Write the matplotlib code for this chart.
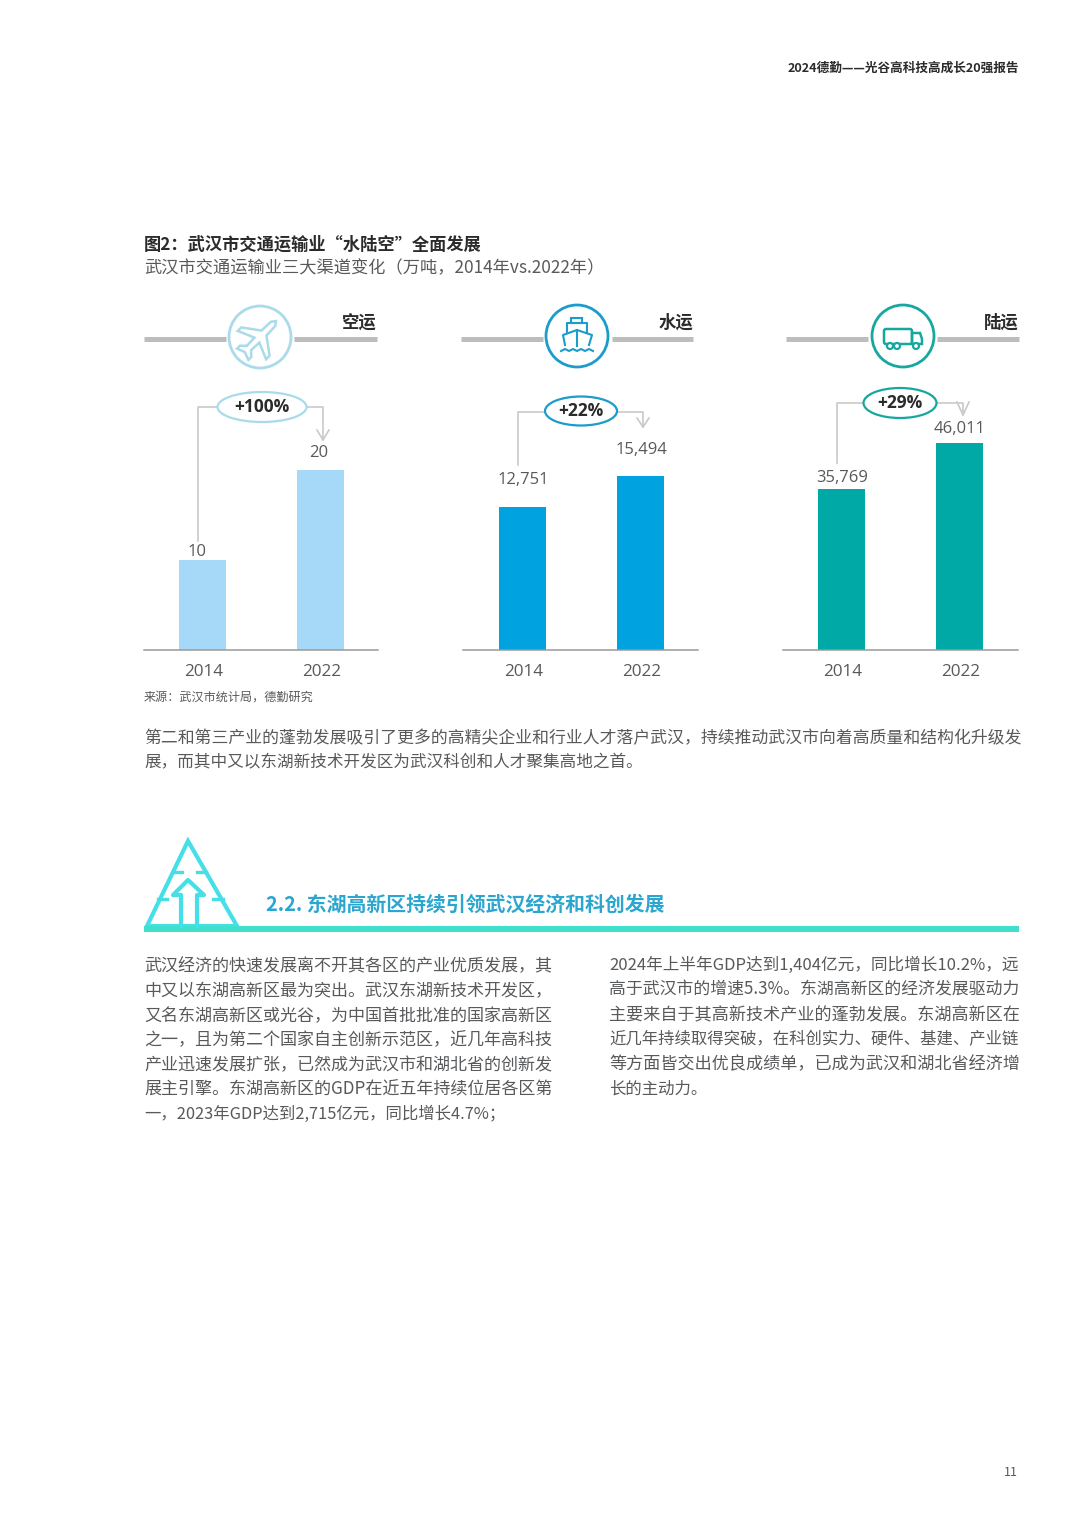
#!/usr/bin/python
# page with the three transport bar panels, drawn in page pixel coords

import matplotlib
matplotlib.use('Agg')
import matplotlib.pyplot as plt
from matplotlib.patches import Circle, Ellipse, Polygon, Rectangle, FancyBboxPatch
from matplotlib.transforms import Affine2D

plt.rcParams['font.family'] = ['Noto Sans CJK SC', 'DejaVu Sans']

W, H = 1080, 1527

years = ['2014', '2022']
air = [10, 20]
water = [12751, 15494]
land = [35769, 46011]
air_labels = ['10', '20']
water_labels = ['12,751', '15,494']
land_labels = ['35,769', '46,011']
growth = ['+100%', '+22%', '+29%']
modes = ['空运', '水运', '陆运']

para = ['第二和第三产业的蓬勃发展吸引了更多的高精尖企业和行业人才落户武汉，持续推动武汉市向着高质量和结构化升级发',
        '展，而其中又以东湖新技术开发区为武汉科创和人才聚集高地之首。']
col1 = ['武汉经济的快速发展离不开其各区的产业优质发展，其',
        '中又以东湖高新区最为突出。武汉东湖新技术开发区，',
        '又名东湖高新区或光谷，为中国首批批准的国家高新区',
        '之一，且为第二个国家自主创新示范区，近几年高科技',
        '产业迅速发展扩张，已然成为武汉市和湖北省的创新发',
        '展主引擎。东湖高新区的GDP在近五年持续位居各区第',
        '一，2023年GDP达到2,715亿元，同比增长4.7%；']
col2 = ['2024年上半年GDP达到1,404亿元，同比增长10.2%，远',
        '高于武汉市的增速5.3%。东湖高新区的经济发展驱动力',
        '主要来自于其高新技术产业的蓬勃发展。东湖高新区在',
        '近几年持续取得突破，在科创实力、硬件、基建、产业链',
        '等方面皆交出优良成绩单，已成为武汉和湖北省经济增',
        '长的主动力。']

TXT = '#58595b'
DARK = '#2b2b2b'
LINE = '#c9c9c9'
NUM_FONT = ['Open Sans', 'DejaVu Sans']

fig = plt.figure(figsize=(W / 100, H / 100), dpi=100)
page = fig.add_axes([0, 0, 1, 1])
page.set_xlim(0, W)
page.set_ylim(H, 0)
page.axis('off')


def panel(left, right, bar0, values, labels, gaps, color, px_per_unit):
    # axes 250px tall sitting on the baseline at y=650
    top = 400
    ax = fig.add_axes([left / W, 1 - 650 / H, (right - left) / W, (650 - top) / H])
    step = 118.0
    ax.set_xlim((left - bar0) / step, (right - bar0) / step)
    ax.set_ylim(0, 250 / px_per_unit)
    bars = ax.bar([0, 1], values, width=47 / step, color=color)
    for b, v, s, g in zip(bars, values, labels, gaps):
        ax.annotate(s, (b.get_x() + b.get_width() / 2, v), xytext=(g[0] * 0.72, g[1] * 0.72),
                    textcoords='offset points', ha='center', va='center', fontsize=12,
                    color=TXT, family=NUM_FONT)
    ax.set_xticks([0.01, 1.01], years, fontsize=12.3, color=TXT, family=NUM_FONT)
    ax.set_yticks([])
    ax.tick_params(axis='x', length=0, pad=10)
    for k in ['top', 'left', 'right']:
        ax.spines[k].set_visible(False)
    ax.spines['bottom'].set_color('#9a9a9a')
    ax.spines['bottom'].set_linewidth(1.1)
    ax.patch.set_alpha(0)
    return ax


panel(144, 378, 202.5, air, air_labels, [(-5, 8), (-2, 17)], '#a6d9f7', 9.0)
panel(463, 698, 522.5, water, water_labels, [(1, 27), (1, 26)], '#00a3e0', 143 / 12751)
panel(783, 1018, 841.5, land, land_labels, [(1, 11), (0, 14)], '#00a9a5', 161 / 35769)


def header(x0, x1, x2, x3, cx, cy, name, color):
    page.plot([x0, x1], [339, 339], color='#bdbdbd', lw=3.6, solid_capstyle='butt')
    page.plot([x2, x3], [339, 339], color='#bdbdbd', lw=3.6, solid_capstyle='butt')
    page.add_patch(Circle((cx, cy), 31, fill=False, ec=color, lw=2.0))
    page.text(x3, 323, name, ha='right', va='center', fontsize=12.5, fontweight='bold', color=DARK)


header(144, 226, 294, 377, 260, 337, modes[0], '#a9dbea')
header(461, 543, 612, 693, 577, 336, modes[1], '#1b9ccb')
header(786, 868, 937, 1019, 903, 336, modes[2], '#17a79f')

# plane, drawn nose up then turned
plane = [(0, -24), (3, -20), (3.5, -7), (20, 5), (20, 10), (3.5, 3), (3, 14), (8, 19), (8, 23),
         (0, 20), (-8, 23), (-8, 19), (-3, 14), (-3.5, 3), (-20, 10), (-20, 5), (-3.5, -7), (-3, -20)]
tr = Affine2D().rotate_deg(45).translate(259, 338) + page.transData
page.add_patch(Polygon(plane, closed=True, fill=False, ec='#a9dbea', lw=1.8, transform=tr))

# ship
sc = '#1b9ccb'
page.add_patch(Rectangle((571, 318), 11, 5, fill=False, ec=sc, lw=1.5))
page.plot([567, 567, 587, 587], [333, 323, 323, 333], color=sc, lw=1.5)
page.plot([565, 563, 577, 592, 589], [345, 335, 330, 335, 345], color=sc, lw=1.5)
page.plot([577, 577], [330, 346], color=sc, lw=1.5)
page.plot([561, 565, 569, 573, 577, 581, 585, 589, 593], [351, 349, 351, 349, 351, 349, 351, 349, 351],
          color=sc, lw=1.5)

# truck
tc = '#17a79f'
page.add_patch(FancyBboxPatch((884, 329), 28, 15, boxstyle='round,pad=0,rounding_size=2', fill=False, ec=tc, lw=1.8))
page.add_patch(Polygon([(912, 333), (920, 333), (922, 339), (922, 344), (912, 344)], fill=False, ec=tc, lw=1.8))
for x in [890, 897, 916]:
    page.add_patch(Circle((x, 346), 3, fc='white', ec=tc, lw=1.6, zorder=3))

# growth connectors
conn = [(198, 541, 407, 262, 407, 89, 30, 323, 440, 430),
        (518, 465, 412, 581, 411, 72, 29, 643, 427, 418),
        (837, 463, 403, 900, 403, 73, 30, 963, 415, 402)]
ell_col = ['#a9dbea', '#1b9ccb', '#17a79f']
for i, c in enumerate(conn):
    xl, yb, yt, ex, ey, ew, eh, xr, tip, vtop = c
    page.plot([xl, xl, xr, xr], [yb, yt, yt, tip], color=LINE, lw=1.2)
    page.plot([xr - 6, xr, xr + 6], [vtop, tip, vtop], color=LINE, lw=1.2)
    page.add_patch(Ellipse((ex, ey), ew, eh, fc='white', ec=ell_col[i], lw=1.6, zorder=3))
    page.text(ex, ey, growth[i], ha='center', va='center', fontsize=12.5, fontweight='bold',
              color=DARK, family=NUM_FONT, zorder=4)


def fit_line(x, y, s, target, size=12):
    # the source page is justified, so scale each full line to the column width
    t = page.text(x, y, s, ha='left', va='center', fontsize=size, color=TXT)
    if target:
        w = t.get_window_extent(fig.canvas.get_renderer()).width
        t.set_fontsize(size * target / w)


# page text
page.text(1019, 68, '2024德勤——光谷高科技高成长20强报告', ha='right', va='center', fontsize=9.1, fontweight='bold', color=DARK)
page.text(144, 245, '图2：武汉市交通运输业“水陆空”全面发展', ha='left', va='center', fontsize=12.4, fontweight='bold', color=DARK)
page.text(144, 268, '武汉市交通运输业三大渠道变化（万吨，2014年vs.2022年）', ha='left', va='center', fontsize=12.4, color=TXT)
page.text(144, 697, '来源：武汉市统计局，德勤研究', ha='left', va='center', fontsize=8.7, color=TXT)
page.text(1011, 1473, '11', ha='center', va='center', fontsize=9, color=TXT)

fit_line(144, 739, para[0], 873)
fit_line(144, 763, para[1], 0, 11.95)
for s, y in zip(col1[:-1], [966, 991, 1016, 1040, 1065, 1089]):
    fit_line(144, y, s, 408)
fit_line(144, 1114, col1[-1], 0, 11.8)
for s, y in zip(col2[:-1], [965, 990, 1015, 1040, 1064]):
    fit_line(609, y, s, 409)
fit_line(609, 1089, col2[-1], 0, 11.8)

# section heading with triangle icon
tri = '#45dfe8'
page.add_patch(Polygon([(188, 841), (147, 926), (237, 926)], closed=True, fill=False, ec=tri, lw=3))
page.plot([181, 181, 173, 188, 204, 197, 197], [926, 895, 895, 880, 895, 895, 926], color=tri, lw=3)
for xa, xb, y in [(173, 182, 872), (197, 206, 872), (158, 167, 899), (213, 223, 899)]:
    page.plot([xa, xb], [y, y], color=tri, lw=2.4)
page.add_patch(Rectangle((144, 926), 875, 6, fc='#3fe0cb', ec='none'))
page.text(266, 904, '2.2. 东湖高新区持续引领武汉经济和科创发展', ha='left', va='center', fontsize=14.3,
          fontweight='bold', color='#2ba6cf')

plt.savefig('out.png', dpi=100)
